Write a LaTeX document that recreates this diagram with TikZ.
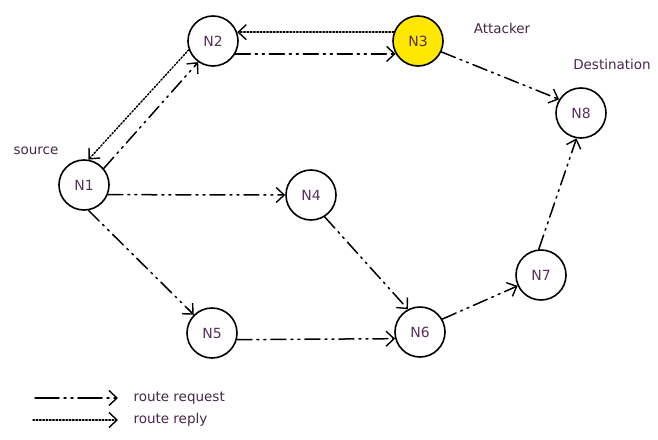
\documentclass[tikz,border=0pt]{standalone}
\usepackage{fontspec}
\setmainfont{DejaVu Sans}
\usetikzlibrary{arrows.meta}

\definecolor{labelpurple}{RGB}{88,48,92}
\definecolor{attackyellow}{RGB}{255,232,0}

\begin{document}
\begin{tikzpicture}[x=1pt, y=-1pt, >={Straight Barb[length=8pt, width=15pt, line width=1.4pt]}, line cap=round, line join=round]

% --- Global TikZ Styles ---
\tikzset{
    router/.style={
        circle,
        draw=black,
        line width=1.6pt,
        minimum size=50pt,
        inner sep=0pt,
        text=labelpurple,
        font=\fontsize{14}{16}\selectfont
    },
    attacker/.style={
        router,
        fill=attackyellow
    },
    tag/.style={
        text=labelpurple!80!black,
        font=\fontsize{13.5}{16}\selectfont
    },
    request/.style={
        ->,
        draw=black,
        line width=1.5pt,
        dash pattern=on 15pt off 5pt on 2pt off 5pt on 2pt off 5pt
    },
    reply/.style={
        ->,
        draw=black,
        line width=1.5pt,
        dash pattern=on 1.5pt off 1.8pt
    }
}

\useasboundingbox (0,0) rectangle (658,439);

% --- Routers ---
\node[router]   (n1) at (84,185)  {N1};
\node[router]   (n2) at (213,41)  {N2};
\node[attacker] (n3) at (418,41)  {N3};
\node[router]   (n4) at (311,195) {N4};
\node[router]   (n5) at (212,333) {N5};
\node[router]   (n6) at (420,332) {N6};
\node[router]   (n7) at (541,275) {N7};
\node[router]   (n8) at (581,113) {N8};

% --- Labels ---
\node[tag] (srclabel)  at (36,151)  {source};
\node[tag] (attlabel)  at (502,28)  {Attacker};
\node[tag] (dstlabel)  at (612,64)  {Destination};

% --- Route request ---
\draw[request] (n1.40)  -- (n2.235);
\draw[request] (n2.-30) -- (n3.210);
\draw[request] (n3.-25) -- (n8.148);
\draw[request] (n1.-22) -- (n4.west);
\draw[request] (n1.-80) -- (n5.135);
\draw[request] (n4.-58) -- (n6.118);
\draw[request] (n5.-15) -- (n6.195);
\draw[request] (n6.30)  -- (n7.205);
\draw[request] (n7.95)  -- (n8.-100);

% --- Route reply ---
\draw[reply] (n3.160) -- (n2.20);
\draw[reply] (n2.200) -- (n1.80);

% --- Legend ---
\coordinate (reqstart) at (35,398);
\coordinate (reqend)   at (118,398);
\coordinate (repstart) at (33,420);
\coordinate (rependd)  at (118,420);

\draw[request, dash pattern=on 24pt off 5pt on 2pt off 5pt on 2pt off 5pt] (reqstart) -- (reqend);
\draw[reply] (repstart) -- (rependd);

\node[tag, anchor=west] (reqlabel) at (130,398) {route request};
\node[tag, anchor=west] (replabel) at (130,420) {route reply};

\end{tikzpicture}
\end{document}
